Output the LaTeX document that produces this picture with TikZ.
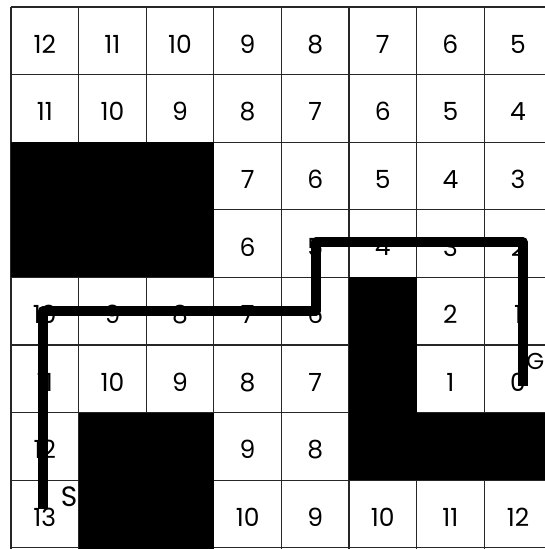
\documentclass[tikz,border=0pt]{standalone}
\usepackage{fontspec}
\setmainfont{Poppins}
\newcommand{\numfont}{\fontsize{25}{25}\selectfont}
\newcommand{\labfont}{\fontsize{28}{28}\selectfont}
\newcommand{\goalfont}{\fontsize{23}{23}\selectfont}
\begin{document}
\begin{tikzpicture}[x=1pt,y=-1pt,
  num/.style={font=\numfont, inner sep=0pt},
  lab/.style={font=\labfont, inner sep=0pt},
  gridline/.style={line width=1.3pt, black!85},
  obstacle/.style={fill=black},
  route/.style={line width=10pt, line join=round, black}]
\useasboundingbox (0,0) rectangle (545,549);
\clip (0,0) rectangle (545,549);
\fill[white] (0,0) rectangle (545,549);
\begin{scope}[shift={(11,7)}, x=67.6pt, y=-67.6pt]
  \foreach \i in {0,...,8} {
    \draw[gridline] (\i,0) -- (\i,8.5);
    \draw[gridline] (0,\i) -- (8.5,\i);
  }
  \fill[obstacle] (0,2) rectangle (3,4);
  \fill[obstacle] (5,4) rectangle (6,7);
  \fill[obstacle] (6,6) rectangle (8.5,7);
  \fill[obstacle] (1,6) rectangle (3,8.5);
  \foreach \c/\r/\n in {
    1/1/12, 2/1/11, 3/1/10, 4/1/9, 5/1/8, 6/1/7, 7/1/6, 8/1/5,
    1/2/11, 2/2/10, 3/2/9, 4/2/8, 5/2/7, 6/2/6, 7/2/5, 8/2/4,
    4/3/7, 5/3/6, 6/3/5, 7/3/4, 8/3/3,
    4/4/6, 5/4/5, 6/4/4, 7/4/3, 8/4/2,
    1/5/10, 2/5/9, 3/5/8, 4/5/7, 5/5/6, 7/5/2, 8/5/1,
    1/6/11, 2/6/10, 3/6/9, 4/6/8, 5/6/7, 7/6/1, 8/6/0,
    1/7/12, 4/7/9, 5/7/8,
    1/8/13, 4/8/10, 5/8/9, 6/8/10, 7/8/11, 8/8/12}
    \node[num] (n\c\r) at (\c-0.5, \r-0.45) {\n};
  \node[lab] (S) at (0.86, 7.24) {S};
  \node[lab, font=\goalfont, anchor=west] (G) at (7.62, 5.25) {G};
  \coordinate (p0) at (0.47, 7.42);
  \coordinate (p1) at (0.47, 4.5);
  \coordinate (p2) at (4.51, 4.5);
  \coordinate (p3) at (4.51, 3.48);
  \coordinate (p4) at (7.57, 3.48);
  \coordinate (p5) at (7.57, 5.6);
  \draw[route] (p0) -- (p1) -- (p2) -- (p3) -- (p4) -- (p5);
\end{scope}
\end{tikzpicture}
\end{document}
